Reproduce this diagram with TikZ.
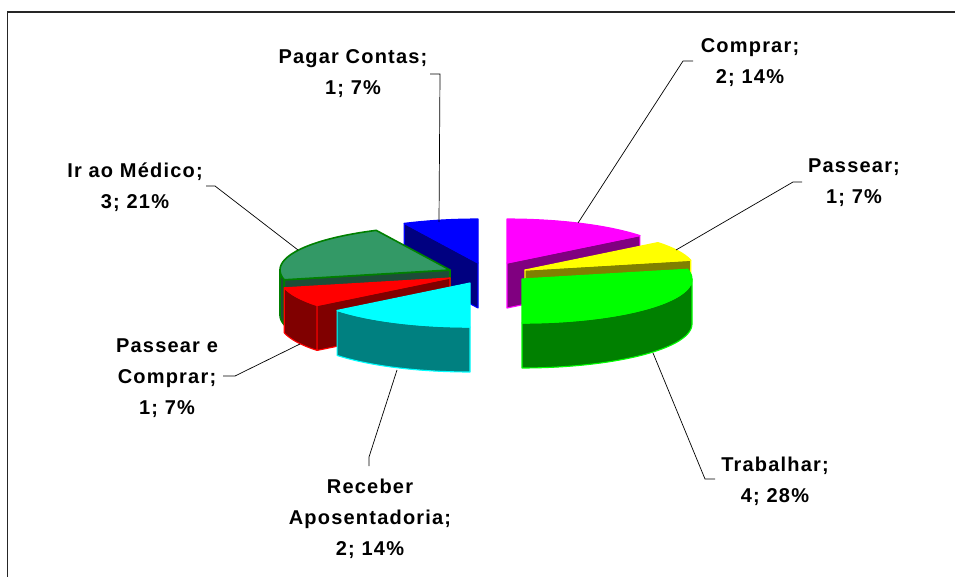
\documentclass[tikz,border=0pt]{standalone}
\usepackage{fontspec}
\newfontfamily\lblfont[LetterSpace=6]{Liberation Sans}
\definecolor{cBlue}{HTML}{0000FF}
\definecolor{cNavy}{HTML}{000080}
\definecolor{cMag}{HTML}{FF00FF}
\definecolor{cPurp}{HTML}{800080}
\definecolor{cYel}{HTML}{FFFF00}
\definecolor{cOli}{HTML}{808000}
\definecolor{cSea}{HTML}{339966}
\definecolor{cSeaD}{HTML}{1D4D38}
\definecolor{cSeaE}{HTML}{008000}
\definecolor{cRed}{HTML}{FF0000}
\definecolor{cMaroon}{HTML}{800000}
\definecolor{cLime}{HTML}{00FF00}
\definecolor{cGreen}{HTML}{008000}
\definecolor{cCyan}{HTML}{00FFFF}
\definecolor{cTeal}{HTML}{008080}
\def\PieRX{170}
\def\PieRY{44}
\def\PieDP{45}
% top face of a wedge: apex x, apex y, start angle, end angle, style
\newcommand{\wedgeTop}[5]{%
  \filldraw[#5] ({#1},{#2}) -- plot[domain=#3:#4,samples=40] ({#1+\PieRX*cos(\x)},{#2-\PieRY*sin(\x)}) -- cycle;}
% outer curved side
\newcommand{\wedgeSide}[5]{%
  \filldraw[#5] plot[domain=#3:#4,samples=40] ({#1+\PieRX*cos(\x)},{#2-\PieRY*sin(\x)})
    -- plot[domain=#4:#3,samples=40] ({#1+\PieRX*cos(\x)},{#2+\PieDP-\PieRY*sin(\x)}) -- cycle;}
% radial cut face
\newcommand{\wedgeRad}[4]{%
  \filldraw[#4] ({#1},{#2}) -- ({#1+\PieRX*cos(#3)},{#2-\PieRY*sin(#3)}) -- ++(0,\PieDP) -- ({#1},{#2+\PieDP}) -- cycle;}
\tikzset{
  lbl/.style={font=\lblfont\bfseries\fontsize{20}{31}\selectfont, align=center, inner sep=0pt, anchor=north},
  leader/.style={draw=black, line width=0.7pt},
  frameline/.style={draw=black!85, line width=1.4pt},
  edge/.style={line width=1.1pt, line join=round}
}
\begin{document}
\begin{tikzpicture}[x=1pt,y=-1pt]
\useasboundingbox (0,0) rectangle (955,577);
\fill[white] (0,0) rectangle (955,577);
\draw[frameline] (7.5,590) -- (7.5,12) -- (970,12);
% Pagar Contas (blue)
\wedgeRad{478}{263}{115.714}{fill=cNavy, draw=cBlue, edge}
\wedgeTop{478}{263}{90}{115.714}{fill=cBlue, draw=cBlue, edge}
% Comprar (magenta)
\wedgeRad{507}{263}{38.571}{fill=cPurp, draw=cMag, edge}
\wedgeTop{507}{263}{38.571}{90}{fill=cMag, draw=cMag, edge}
% Ir ao Medico (sea green)
\wedgeSide{450}{270}{180}{192.857}{fill=cSeaD, draw=cSeaE, edge, line width=1.6pt}
\wedgeRad{450}{270}{192.857}{fill=cSeaD, draw=cSeaE, edge, line width=1.6pt}
\wedgeTop{450}{270}{115.714}{192.857}{fill=cSea, draw=cSeaE, edge, line width=1.6pt}
% Passear (yellow)
\wedgeRad{525}{270}{12.857}{fill=cOli, draw=cYel, edge}
\wedgeTop{525}{270}{12.857}{38.571}{fill=cYel, draw=cYel, edge}
% Passear e Comprar (red)
\wedgeSide{450}{278}{192.857}{218.571}{fill=cMaroon, draw=cRed, edge}
\wedgeRad{450}{278}{218.571}{fill=cMaroon, draw=cRed, edge}
\wedgeTop{450}{278}{192.857}{218.571}{fill=cRed, draw=cRed, edge}
% Trabalhar (green)
\wedgeSide{522}{279}{270}{360}{fill=cGreen, draw=cLime, edge}
\wedgeTop{522}{279}{270}{372.857}{fill=cLime, draw=cLime, edge}
% Receber Aposentadoria (cyan)
\wedgeSide{470}{283}{218.571}{270}{fill=cTeal, draw=cCyan, edge}
\wedgeTop{470}{283}{218.571}{270}{fill=cCyan, draw=cCyan, edge}
% labels
\node[lbl] (lPagar) at (353,49.5) {Pagar Contas;\\1; 7\%};
\node[lbl] (lComprar) at (750,38.5) {Comprar;\\2; 14\%};
\node[lbl] (lPassear) at (854,158.5) {Passear;\\1; 7\%};
\node[lbl] (lMedico) at (135,162.5) {Ir ao Médico;\\3; 21\%};
\node[lbl] (lPeC) at (167,338.5) {Passear e\\Comprar;\\1; 7\%};
\node[lbl] (lTrab) at (775,456.5) {Trabalhar;\\4; 28\%};
\node[lbl] (lReceber) at (370,478.5) {Receber\\Aposentadoria;\\2; 14\%};
% leader coordinates
\coordinate (pA) at (430,74);  \coordinate (pB) at (440,74);  \coordinate (pC) at (439,222);
\coordinate (cA) at (693,61);  \coordinate (cB) at (683,61);  \coordinate (cC) at (578,223);
\coordinate (sA) at (802,182); \coordinate (sB) at (793,182); \coordinate (sC) at (676,250);
\coordinate (mA) at (206,186); \coordinate (mB) at (215,186); \coordinate (mC) at (298,250);
\coordinate (eA) at (223,376); \coordinate (eB) at (235,376); \coordinate (eC) at (300,344);
\coordinate (tA) at (715,479); \coordinate (tB) at (705,479); \coordinate (tC) at (653,353);
\coordinate (rA) at (369,466); \coordinate (rB) at (369,457); \coordinate (rC) at (397,370);
\draw[leader] (pA) -- (pB) -- (pC);
\draw[leader] (cA) -- (cB) -- (cC);
\draw[leader] (sA) -- (sB) -- (sC);
\draw[leader] (mA) -- (mB) -- (mC);
\draw[leader] (eA) -- (eB) -- (eC);
\draw[leader] (tA) -- (tB) -- (tC);
\draw[leader] (rA) -- (rB) -- (rC);
\end{tikzpicture}
\end{document}
